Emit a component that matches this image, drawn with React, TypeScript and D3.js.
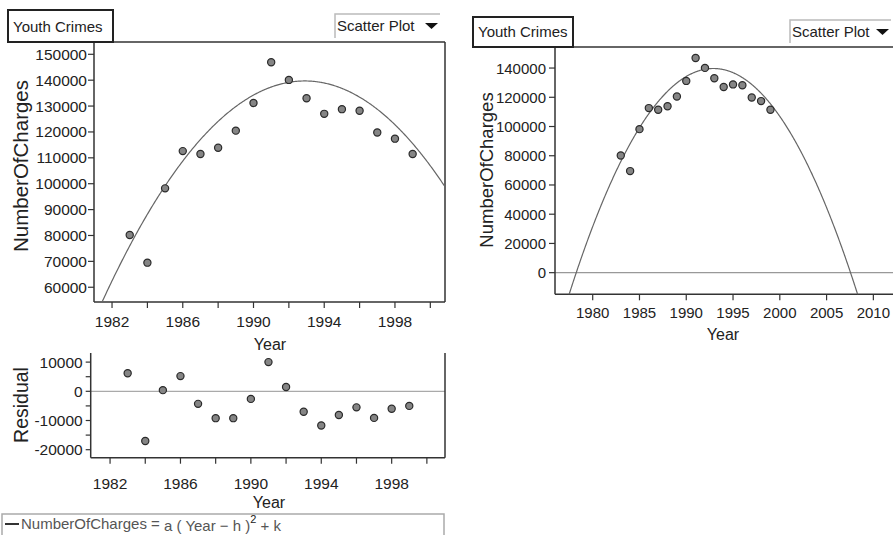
import React, { useEffect, useRef } from "react";
import * as d3 from "d3";

// data
const YEARS = [1983, 1984, 1985, 1986, 1987, 1988, 1989, 1990, 1991, 1992, 1993, 1994, 1995, 1996, 1997, 1998, 1999];
const CHARGES = [80200, 69500, 98200, 112600, 111500, 113900, 120500, 131200, 146900, 140100, 133000, 127000, 128800, 128200, 119800, 117400, 111500];
const RESIDUALS = [6200, -17000, 400, 5200, -4300, -9200, -9200, -2600, 10000, 1500, -7000, -11700, -8100, -5500, -9100, -6000, -5000];

// fitted model: NumberOfCharges = a (Year - h)^2 + k
const FIT_A = -650;
const FIT_H = 1992.9;
const FIT_K = 139700;

const MAIN_Y_TICKS = [60000, 70000, 80000, 90000, 100000, 110000, 120000, 130000, 140000, 150000];
const MAIN_X_TICKS = [1982, 1984, 1986, 1988, 1990, 1992, 1994, 1996, 1998, 2000];
const MAIN_X_LABELS = [1982, 1986, 1990, 1994, 1998];
const RES_Y_TICKS = [-20000, -15000, -10000, -5000, 0, 5000, 10000];
const RES_Y_LABELS = [-20000, -10000, 0, 10000];
const WIDE_Y_TICKS = [0, 20000, 40000, 60000, 80000, 100000, 120000, 140000];
const WIDE_X_TICKS = [1980, 1985, 1990, 1995, 2000, 2005, 2010];

const FONT = "'Liberation Sans', Arial, sans-serif";
const AXIS = "#333";
const TEXT = "#222";

const fit = (year) => FIT_A * (year - FIT_H) * (year - FIT_H) + FIT_K;

const DrawLine = (svg, x1, y1, x2, y2, colour = AXIS, width = 1.5) => {
  svg.append("line")
    .attr("x1", x1).attr("y1", y1)
    .attr("x2", x2).attr("y2", y2)
    .style("stroke", colour)
    .style("stroke-width", width);
}

const DrawText = (svg, x, y, text, size, anchor = "start", rotate = 0) => {
  svg.append("text")
    .attr("transform", `translate(${x},${y}) rotate(${rotate})`)
    .attr("text-anchor", anchor)
    .style("font-family", FONT)
    .style("font-size", `${size}px`)
    .style("fill", TEXT)
    .text(text);
}

const DrawTitle = (svg, x, y, w, h, text) => {
  svg.append("rect")
    .attr("x", x).attr("y", y).attr("width", w).attr("height", h)
    .style("fill", "white")
    .style("stroke", "#222")
    .style("stroke-width", 2);
  DrawText(svg, x + 5, y + h - 10, text, 15);
}

const DrawDropdown = (svg, x, y, w, h) => {
  svg.append("path")
    .attr("d", `M${x},${y + h} L${x},${y} L${x + w},${y}`)
    .style("fill", "none")
    .style("stroke", "#bbb")
    .style("stroke-width", 1.5);
  DrawText(svg, x + 2, y + 17, "Scatter Plot", 15);
  svg.append("path")
    .attr("d", `M${x + w - 15},${y + 9} L${x + w - 2},${y + 9} L${x + w - 8.5},${y + 15} Z`)
    .style("fill", "#111");
}

const DrawPoints = (svg, x, y, values) => {
  svg.selectAll(null)
    .data(values)
    .enter()
    .append("circle")
    .attr("cx", (d, i) => x(YEARS[i]))
    .attr("cy", (d) => y(d))
    .attr("r", 3.6)
    .style("fill", "#858585")
    .style("stroke", "#2a2a2a")
    .style("stroke-width", 1.2);
}

const DrawCurve = (svg, x, y, clipId) => {
  const [x0, x1] = x.domain();
  const samples = d3.range(x0, x1 + 0.05, 0.05);
  const line = d3.line()
    .x((d) => x(d))
    .y((d) => y(fit(d)));
  svg.append("path")
    .datum(samples)
    .attr("d", line)
    .attr("clip-path", `url(#${clipId})`)
    .style("fill", "none")
    .style("stroke", "#666")
    .style("stroke-width", 1.2);
}

const AddClip = (defs, id, x, y, w, h) => {
  defs.append("clipPath").attr("id", id)
    .append("rect")
    .attr("x", x).attr("y", y).attr("width", w).attr("height", h);
}

const App = () => {
  const svgRef = useRef(null);

  useEffect(() => {
    const svg = d3.select(svgRef.current);
    svg.selectAll("*").remove();
    const defs = svg.append("defs");

    // ---- left: main scatter with fitted parabola ----
    const mL = 94, mR = 445, mT = 42, mB = 302;
    const mx = d3.scaleLinear().domain([1980.98, 2000.83]).range([mL, mR]);
    const my = d3.scaleLinear().domain([54300, 154750]).range([mB, mT]);
    AddClip(defs, "clipMain", mL, mT, mR - mL, mB - mT);

    DrawLine(svg, mL, mT, mR, mT);
    DrawLine(svg, mR, mT, mR, mB);
    DrawLine(svg, mL, mT, mL, mB);
    DrawLine(svg, mL, mB, mR, mB);
    MAIN_Y_TICKS.forEach((t) => {
      DrawLine(svg, mL - 6, my(t), mL, my(t), AXIS, 1.2);
      DrawText(svg, mL - 7, my(t) + 5.5, String(t), 15.5, "end");
    });
    MAIN_X_TICKS.forEach((t) => {
      DrawLine(svg, mx(t), mB, mx(t), mB + 6, AXIS, 1.2);
    });
    MAIN_X_LABELS.forEach((t) => {
      DrawText(svg, mx(t), 327, String(t), 15.5, "middle");
    });
    DrawCurve(svg, mx, my, "clipMain");
    DrawPoints(svg, mx, my, CHARGES);
    DrawText(svg, 270, 350, "Year", 16, "middle");
    DrawText(svg, 28, 166, "NumberOfCharges", 20.5, "middle", -90);
    DrawTitle(svg, 8, 10, 105, 32, "Youth Crimes");
    DrawDropdown(svg, 335, 14, 105, 24);

    // ---- left bottom: residuals ----
    const rL = 90.7, rR = 445, rT = 353, rB = 457.7;
    const rx = d3.scaleLinear().domain([1980.9, 2001.03]).range([rL, rR]);
    const ry = d3.scaleLinear().domain([-22740, 13120]).range([rB, rT]);

    DrawLine(svg, rL, ry(0), rR, ry(0), "#aaa", 1.3);
    DrawLine(svg, rL, rT, rL, rB);
    DrawLine(svg, rR, rT, rR, rB);
    DrawLine(svg, rL, rB, rR, rB);
    RES_Y_TICKS.forEach((t) => {
      DrawLine(svg, rL - 5, ry(t), rL, ry(t), AXIS, 1.2);
    });
    RES_Y_LABELS.forEach((t) => {
      DrawText(svg, rL - 8, ry(t) + 5.5, String(t), 15.5, "end");
    });
    MAIN_X_TICKS.forEach((t) => {
      DrawLine(svg, rx(t), rB, rx(t), rB + 6, AXIS, 1.2);
    });
    MAIN_X_LABELS.forEach((t) => {
      DrawText(svg, rx(t), 489, String(t), 15.5, "middle");
    });
    DrawPoints(svg, rx, ry, RESIDUALS);
    DrawText(svg, 269, 508, "Year", 16, "middle");
    DrawText(svg, 28, 405, "Residual", 19.5, "middle", -90);

    // legend
    svg.append("rect")
      .attr("x", 2).attr("y", 514).attr("width", 442).attr("height", 30)
      .style("fill", "white")
      .style("stroke", "#aaa")
      .style("stroke-width", 1.5);
    DrawLine(svg, 5, 524, 19, 524, "#333", 2);
    const leg = svg.append("text")
      .attr("x", 21).attr("y", 529)
      .style("font-family", FONT)
      .style("font-size", "15px")
      .style("fill", "#555");
    leg.append("tspan").text("NumberOfCharges = ");
    leg.append("tspan").attr("dy", 2).text("a ( Year \u2212 h )");
    leg.append("tspan").attr("dy", -8).style("font-size", "11px").style("fill", "#222").text("2");
    leg.append("tspan").attr("dy", 8).text(" + k");

    // ---- right: wide view ----
    const wL = 555, wR = 893, wT = 47, wB = 294.3;
    const wx = d3.scaleLinear().domain([1975.97, 2012.1]).range([wL, wR]);
    const wy = d3.scaleLinear().domain([-14800, 154400]).range([wB, wT]);
    AddClip(defs, "clipWide", wL, wT, wR - wL, wB - wT);

    DrawLine(svg, wL, wy(0), wR, wy(0), "#999", 1.3);
    DrawLine(svg, wL, wT, wR, wT);
    DrawLine(svg, wL, wT, wL, wB);
    DrawLine(svg, wL, wB, wR, wB);
    WIDE_Y_TICKS.forEach((t) => {
      DrawLine(svg, wL - 6, wy(t), wL, wy(t), AXIS, 1.2);
      DrawText(svg, wL - 9, wy(t) + 5.5, String(t), 15, "end");
    });
    WIDE_X_TICKS.forEach((t) => {
      DrawLine(svg, wx(t), wB, wx(t), wB + 6, AXIS, 1.2);
      DrawText(svg, wx(t), 318, String(t), 15, "middle");
    });
    DrawCurve(svg, wx, wy, "clipWide");
    DrawPoints(svg, wx, wy, CHARGES);
    DrawText(svg, 723, 340, "Year", 16, "middle");
    DrawText(svg, 493, 170, "NumberOfCharges", 18.5, "middle", -90);
    DrawTitle(svg, 473, 17, 100, 30, "Youth Crimes");
    DrawDropdown(svg, 790, 20, 101, 23);
  }, []);

  return (
    <svg
      ref={svgRef}
      width={893}
      height={535}
      style={{ position: "absolute", left: 0, top: 0, background: "white" }}
    />
  );
};

export default App;
